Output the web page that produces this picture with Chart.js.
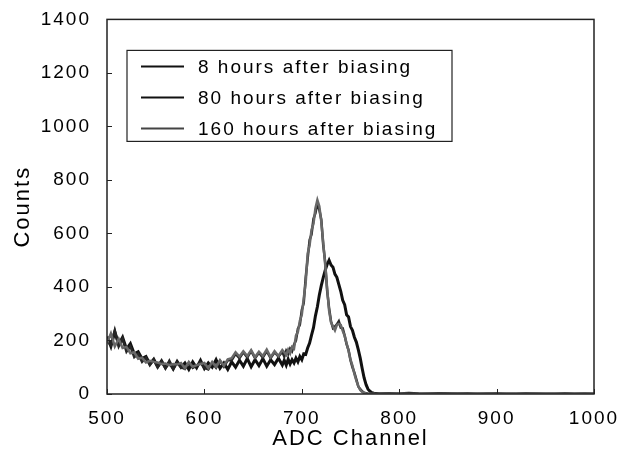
<!DOCTYPE html>
<html>
<head>
<meta charset="utf-8">
<script src="https://cdn.jsdelivr.net/npm/chart.js@4.4.0/dist/chart.umd.min.js"></script>
<style>
  html, body { margin: 0; padding: 0; background: #fff; }
  #wrap { width: 629px; height: 455px; }
</style>
</head>
<body>
<div id="wrap"><canvas id="myChart" width="629" height="455"></canvas></div>
<script>
// channels (x values), three ranges with different sampling
const chA = [500,504,508,512,516,520,524,528,532,536,540,544,548,552,556,560,564,568,572,576,
  580,584,588,592,596,600,604,608,612,616,620,624,628,632,636,640,644,648,652,656,
  660,664,668,672,676,680];
const chB = [682,684,686,688,690,692,694,696,698,700,702,704,706,708,710,712,714,716,718,720,
  722,724,726,728,730,732,734,736,738,740,742,744,746,748,750,752,754,756,758,760,
  762,764,766,768,770,772,774,776,778,780];
const chC = [790,800,810,820,830,840,850,860,870,880,890,900,910,920,930,940,950,960,970,980,990,1000];

// 8 hours after biasing
const h8A = [215,178,232,185,212,168,188,150,158,132, 140,112,130,102,124,98,118,94,122,100,
  116,92,120,98,126,95,116,100,128,96, 116,92,120,100,126,104,132,102,128,106,
  132,104,128,110,134,108];
const h8B = [126,108,130,112,128,116,134,120,140,128, 150,148,172,190,220,248,292,326,370,405,
  435,462,484,500,482,474,448,436,410,384, 350,334,296,288,252,238,212,194,166,134,
  95,60,35,18,10,5,3,2,1,1];
const h8C = [2,1,3,1,0,2,1,0,1,0,0,1,0,0,1,0,0,0,1,0,0,0];

// 80 hours after biasing
const h80A = [200,182,238,178,206,158,178,138,150,120, 136,108,128,100,122,96,124,94,118,100,
  94,116,98,106,118,98,92,116,98,124, 102,126,126,150,134,156,136,160,134,154,
  136,160,134,156,140,158];
const h80B = [140,162,150,170,160,184,200,244,258,314, 340,436,505,575,596,655,676,712,688,652,
  556,494,386,322,272,246,252,260,272,248, 246,218,186,164,126,100,80,55,28,18,
  10,5,3,1,0,1,0,0,1,0];
const h80C = [1,0,2,0,1,0,0,1,0,0,1,0,0,0,0,1,0,0,0,0,1,0];

// 160 hours after biasing
const h160A = [190,226,178,206,172,176,152,156,132,136, 118,124,120,118,112,114,108,112,110,116,
  96,120,102,108,112,116,96,120,102,126, 106,130,134,156,140,160,142,164,138,158,
  142,166,138,160,142,164];
const h160B = [156,146,166,152,176,170,218,232,274,296, 358,416,524,556,614,636,694,725,702,644,
  566,484,396,312,268,252,238,258,262,258, 236,218,188,162,128,106,75,50,30,15,
  8,4,2,1,1,0,1,0,0,1];
const h160C = [1,2,0,1,0,1,0,0,0,1,0,0,1,0,0,0,0,1,0,0,0,0];

const seriesLabels = ["8 hours after biasing", "80 hours after biasing", "160 hours after biasing"];
const xTicks = [500, 600, 700, 800, 900, 1000];
const yTicks = [0, 200, 400, 600, 800, 1000, 1200, 1400];

const channels = chA.concat(chB, chC);
function toPoints(a, b, c) {
  const ys = a.concat(b, c);
  return channels.map((x, i) => ({ x: x, y: ys[i] }));
}

const fontFam = "'Liberation Sans', Arial, Helvetica, sans-serif";

// box around the plot + inward tick marks
const frame = {
  id: 'frame',
  beforeDraw(chart) { chart.ctx.letterSpacing = '2px'; },
  afterDatasetsDraw(chart) {
    const ctx = chart.ctx;
    const a = chart.chartArea;
    const xs = chart.scales.x, ys = chart.scales.y;
    ctx.save();
    ctx.strokeStyle = '#222';
    ctx.lineWidth = 1.5;
    ctx.strokeRect(a.left, a.top, a.right - a.left, a.bottom - a.top);
    ctx.lineWidth = 1;
    ctx.beginPath();
    xTicks.forEach(v => {
      const px = Math.round(xs.getPixelForValue(v)) + 0.5;
      ctx.moveTo(px, a.bottom); ctx.lineTo(px, a.bottom - 5);
    });
    yTicks.forEach(v => {
      const py = Math.round(ys.getPixelForValue(v)) + 0.5;
      ctx.moveTo(a.left, py); ctx.lineTo(a.left + 5, py);
    });
    ctx.stroke();
    ctx.restore();
  }
};

// legend drawn inside the plot with a box
const legendBox = {
  id: 'legendBox',
  afterDraw(chart) {
    const ctx = chart.ctx;
    const a = chart.chartArea;
    const bx = a.left + 20, by = a.top + 31, bw = 325, bh = 91;
    ctx.save();
    ctx.fillStyle = '#fff';
    ctx.fillRect(bx, by, bw, bh);
    ctx.strokeStyle = '#222';
    ctx.lineWidth = 1.2;
    ctx.strokeRect(bx, by, bw, bh);
    ctx.font = '19px ' + fontFam;
    ctx.letterSpacing = '2px';
    ctx.textBaseline = 'middle';
    ctx.fillStyle = '#000';
    chart.data.datasets.forEach((ds, i) => {
      const y = by + 16 + i * 31;
      ctx.strokeStyle = i === 2 ? '#444' : '#111';
      ctx.lineWidth = 2;
      ctx.beginPath();
      ctx.moveTo(bx + 14, y); ctx.lineTo(bx + 57, y);
      ctx.stroke();
      ctx.fillText(ds.label, bx + 71, y + 1);
    });
    ctx.restore();
  }
};

new Chart(document.getElementById('myChart'), {
  type: 'line',
  data: {
    datasets: [
      { label: seriesLabels[0], data: toPoints(h8A, h8B, h8C), borderColor: '#111', borderWidth: 3, order: 3 },
      { label: seriesLabels[1], data: toPoints(h80A, h80B, h80C), borderColor: '#262626', borderWidth: 2.5, order: 2 },
      { label: seriesLabels[2], data: toPoints(h160A, h160B, h160C), borderColor: '#686868', borderWidth: 2.5, order: 1 }
    ]
  },
  options: {
    responsive: false,
    animation: false,
    devicePixelRatio: 1,
    layout: { padding: { left: 0, top: 18, right: 35, bottom: 0 } },
    elements: { point: { radius: 0 }, line: { tension: 0 } },
    plugins: { legend: { display: false }, tooltip: { enabled: false } },
    scales: {
      x: {
        type: 'linear', min: 500, max: 1000,
        afterBuildTicks(s) { s.ticks = xTicks.map(v => ({ value: v })); },
        afterFit(s) { s.height = 61; },
        grid: { display: false },
        border: { display: false },
        ticks: { color: '#000', padding: 5, font: { family: fontFam, size: 19 }, callback: v => String(v) },
        title: { display: true, text: 'ADC Channel', color: '#000', padding: { top: 4, bottom: 3 },
          font: { family: fontFam, size: 22 } }
      },
      y: {
        min: 0, max: 1400,
        afterBuildTicks(s) { s.ticks = yTicks.map(v => ({ value: v })); },
        afterFit(s) { s.width = 107; },
        grid: { display: false },
        border: { display: false },
        ticks: { color: '#000', padding: 8, font: { family: fontFam, size: 19 }, callback: v => String(v) },
        title: { display: true, text: 'Counts', color: '#000', padding: { top: 10, bottom: 4 },
          font: { family: fontFam, size: 22 } }
      }
    }
  },
  plugins: [frame, legendBox]
});
</script>
</body>
</html>
